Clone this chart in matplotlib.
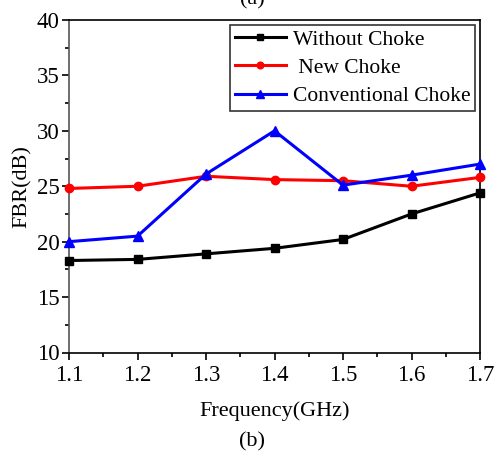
import matplotlib
matplotlib.use("Agg")
import matplotlib.pyplot as plt
from matplotlib.ticker import MultipleLocator, FixedLocator

plt.rcParams['font.family'] = ['Liberation Serif', 'DejaVu Serif']
plt.rcParams['mathtext.fontset'] = 'stix'

freq = [1.1, 1.2, 1.3, 1.4, 1.5, 1.6, 1.7]
without_choke = [18.3, 18.4, 18.9, 19.4, 20.2, 22.5, 24.4]
new_choke = [24.8, 25.0, 25.9, 25.6, 25.5, 25.0, 25.8]
conventional_choke = [20.0, 20.5, 26.1, 30.0, 25.1, 26.0, 27.0]
labels = ['Without Choke', ' New Choke', 'Conventional Choke']
xtick_labels = ['1.1', '1.2', '1.3', '1.4', '1.5', '1.6', '1.7']

fig = plt.figure(figsize=(4.95, 4.54), dpi=100)
ax = fig.add_axes([69/495, 1-352.5/454, (480-69)/495, (352.5-20)/454])

ax.plot(freq, without_choke, color='black', marker='s', ms=5.5, lw=2.2, label=labels[0], clip_on=False, zorder=3)
ax.plot(freq, new_choke, color='red', marker='o', ms=6, lw=2.2, label=labels[1], clip_on=False, zorder=3)
ax.plot(freq, conventional_choke, color='blue', marker='^', ms=6.5, lw=2.2, label=labels[2], clip_on=False, zorder=4)

ax.set_xlim(1.1, 1.7)
ax.set_ylim(10, 40)
ax.set_xticks(freq)
ax.set_xticklabels(xtick_labels)
minor_x = [(a + b) / 2 for a, b in zip(freq[:-1], freq[1:])]
ax.xaxis.set_minor_locator(FixedLocator(minor_x))
ax.yaxis.set_major_locator(MultipleLocator(5))
ax.yaxis.set_minor_locator(MultipleLocator(2.5))
ax.tick_params(which='major', direction='out', length=5, width=1.2, labelsize=16.5, pad=2, colors='black')
ax.tick_params(axis='x', which='major', pad=4)
ax.tick_params(which='minor', direction='out', length=3, width=1.2)
for sp in ax.spines.values():
    sp.set_linewidth(1.2)
ax.spines['left'].set_color('#555555')

ax.set_xlabel('Frequency(GHz)', fontsize=16, labelpad=11)
ax.set_ylabel('FBR(dB)', fontsize=16, labelpad=3)

leg = ax.legend(loc='upper right', fontsize=15.5, frameon=True, fancybox=False,
                edgecolor='black', handlelength=2.4, handletextpad=0.3,
                borderpad=0.2, labelspacing=0.38, borderaxespad=0.25, markerscale=0.8)
leg.get_frame().set_linewidth(1.2)

fig.text(252/495, 1.0, '(a)', ha='center', va='center', fontsize=16)
fig.text(252/495, 1-442/454, '(b)', ha='center', va='center', fontsize=16)

fig.savefig('out.png', dpi=100)
